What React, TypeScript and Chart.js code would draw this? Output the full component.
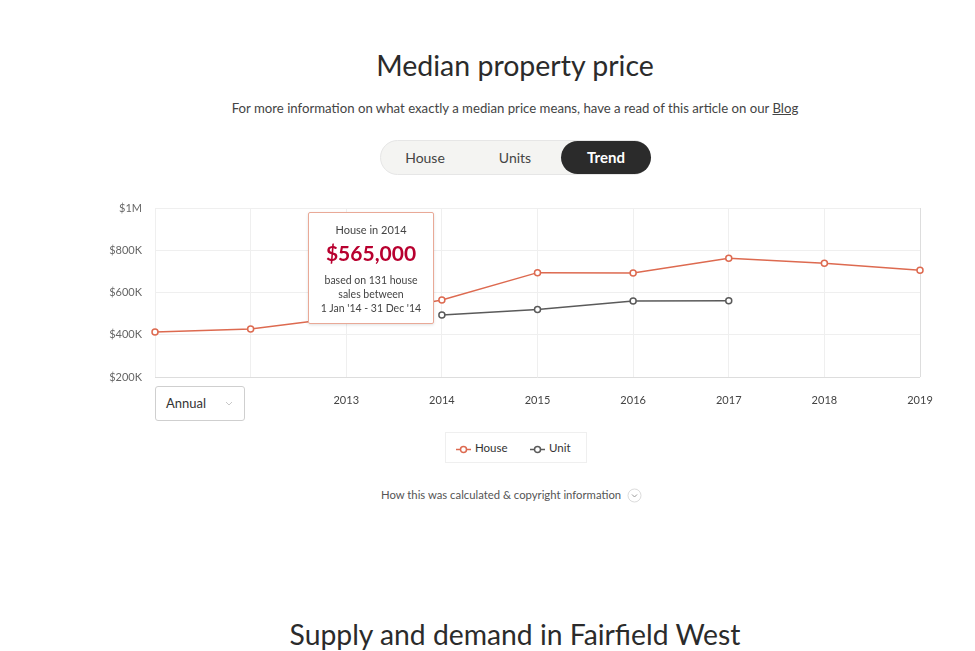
import React, { useEffect, useRef } from 'react';
import { Chart, registerables } from 'chart.js';

Chart.register(...registerables);

const years = ['2011', '2012', '2013', '2014', '2015', '2016', '2017', '2018', '2019'];
const houseValues = [413000, 427000, 484000, 565000, 694000, 692000, 762000, 738000, 705000];
const unitValues = [null, null, null, 493000, 519000, 560000, 561000, null, null];
const yTickValues = [200000, 400000, 600000, 800000, 1000000];
const yTickLabels = ['$200K', '$400K', '$600K', '$800K', '$1M'];
const hiddenYearLabels = ['2011', '2012'];
const seriesNames = ['House', 'Unit'];

const FONT = 'Lato, "Open Sans", sans-serif';
const HOUSE_COLOR = '#dd6a50';
const UNIT_COLOR = '#5a5a5a';

function LegendIcon({ color }: { color: string }) {
  return (
    <svg width="15" height="9" style={{ verticalAlign: 'middle', marginRight: 4 }}>
      <line x1="0" y1="4.5" x2="15" y2="4.5" stroke={color} strokeWidth="1.5" />
      <circle cx="7.5" cy="4.5" r="3" fill="#fff" stroke={color} strokeWidth="1.5" />
    </svg>
  );
}

export default function App() {
  const canvasRef = useRef<HTMLCanvasElement | null>(null);

  useEffect(() => {
    if (!canvasRef.current) return;
    const chart = new Chart(canvasRef.current, {
      type: 'line',
      data: {
        labels: years,
        datasets: [
          {
            label: seriesNames[0],
            data: houseValues,
            borderColor: HOUSE_COLOR,
            backgroundColor: '#ffffff',
            pointBackgroundColor: '#ffffff',
            pointBorderColor: HOUSE_COLOR,
            pointRadius: 3,
            pointBorderWidth: 1.5,
            borderWidth: 1.5,
            tension: 0,
            fill: false,
          },
          {
            label: seriesNames[1],
            data: unitValues,
            borderColor: UNIT_COLOR,
            backgroundColor: '#ffffff',
            pointBackgroundColor: '#ffffff',
            pointBorderColor: UNIT_COLOR,
            pointRadius: 3,
            pointBorderWidth: 1.5,
            borderWidth: 1.5,
            tension: 0,
            fill: false,
            spanGaps: false,
          },
        ],
      },
      options: {
        animation: false,
        responsive: false,
        maintainAspectRatio: false,
        layout: { padding: { top: 13, right: 20, left: 0, bottom: 0 } },
        plugins: {
          legend: { display: false },
          tooltip: { enabled: false },
        },
        scales: {
          x: {
            offset: false,
            grid: {
              drawTicks: false,
              color: (ctx: any) => (ctx.index === years.length - 1 ? '#dddddd' : '#efefef'),
            },
            border: { display: false },
            ticks: {
              padding: 17,
              autoSkip: false,
              maxRotation: 0,
              color: '#444444',
              font: { family: FONT, size: 11 },
              callback: (_v: any, i: number) => (hiddenYearLabels.includes(years[i]) ? '' : years[i]),
            },
            afterFit: (s: any) => {
              s.height = 38;
              s.paddingLeft = 0;
              s.paddingRight = 0;
            },
          },
          y: {
            min: yTickValues[0],
            max: yTickValues[yTickValues.length - 1],
            afterBuildTicks: (s: any) => {
              s.ticks = yTickValues.map((v) => ({ value: v }));
            },
            grid: {
              drawTicks: false,
              color: (ctx: any) => (ctx.index === 0 ? '#dddddd' : '#efefef'),
            },
            border: { display: false },
            ticks: {
              padding: 13,
              color: '#666666',
              font: { family: FONT, size: 11 },
              callback: (v: any) => {
                const idx = yTickValues.indexOf(Number(v));
                return idx >= 0 ? yTickLabels[idx] : '';
              },
            },
            afterFit: (s: any) => {
              s.width = 55;
              s.paddingTop = 0;
              s.paddingBottom = 0;
            },
          },
        },
      },
    } as any);
    return () => chart.destroy();
  }, []);

  const abs = (o: React.CSSProperties): React.CSSProperties => ({ position: 'absolute', ...o });

  return (
    <div
      style={{
        position: 'fixed',
        left: 0,
        top: 0,
        width: 975,
        height: 651,
        background: '#ffffff',
        fontFamily: FONT,
        color: '#333',
        overflow: 'hidden',
      }}
    >
      <div style={abs({ left: 0, width: 1030, top: 47, textAlign: 'center', fontSize: 28.5, color: '#2b2b2b', lineHeight: '36px' })}>
        Median property price
      </div>
      <div style={abs({ left: 0, width: 1030, top: 100, textAlign: 'center', fontSize: 13.2, color: '#444', lineHeight: '16px' })}>
        For more information on what exactly a median price means, have a read of this article on our{' '}
        <span style={{ textDecoration: 'underline' }}>Blog</span>
      </div>

      {/* toggle */}
      <div
        style={abs({
          left: 380,
          top: 140,
          width: 271,
          height: 35,
          borderRadius: 18,
          background: '#f4f4f2',
          border: '1px solid #e6e6e6',
          boxSizing: 'border-box',
        })}
      />
      <div style={abs({ left: 385, top: 149, width: 80, textAlign: 'center', fontSize: 14, color: '#444' })}>House</div>
      <div style={abs({ left: 475, top: 149, width: 80, textAlign: 'center', fontSize: 14, color: '#444' })}>Units</div>
      <div
        style={abs({
          left: 561,
          top: 141,
          width: 90,
          height: 33,
          borderRadius: 17,
          background: '#2b2b2b',
          color: '#fff',
          fontWeight: 700,
          fontSize: 15,
          textAlign: 'center',
          lineHeight: '33px',
        })}
      >
        Trend
      </div>

      <canvas ref={canvasRef} width={840} height={220} style={abs({ left: 100, top: 195, width: 840, height: 220 })} />

      {/* tooltip */}
      <div
        style={abs({
          left: 308,
          top: 212,
          width: 126,
          height: 112,
          boxSizing: 'border-box',
          background: '#ffffff',
          border: '1px solid #e9a997',
          borderRadius: 2,
          boxShadow: '0 1px 3px rgba(0,0,0,0.12)',
          textAlign: 'center',
          color: '#444',
        })}
      >
        <div style={{ fontSize: 11, marginTop: 10, lineHeight: '14px' }}>House in 2014</div>
        <div style={{ fontSize: 21, fontWeight: 700, color: '#b8002f', lineHeight: '28px', marginTop: 2 }}>$565,000</div>
        <div style={{ fontSize: 10.5, lineHeight: '14px', marginTop: 6 }}>
          based on 131 house
          <br />
          sales between
          <br />1 Jan '14 - 31 Dec '14
        </div>
      </div>

      {/* annual dropdown */}
      <div
        style={abs({
          left: 155,
          top: 386,
          width: 90,
          height: 35,
          boxSizing: 'border-box',
          border: '1px solid #cfcfcf',
          borderRadius: 3,
          background: '#fff',
        })}
      >
        <div style={abs({ left: 10, top: 8, fontSize: 13, color: '#333' })}>Annual</div>
        <svg width="8" height="6" style={abs({ left: 69, top: 14 })}>
          <polyline points="1,1 4,4 7,1" fill="none" stroke="#c8c8c8" strokeWidth="1" />
        </svg>
      </div>

      {/* legend */}
      <div
        style={abs({
          left: 445,
          top: 432,
          width: 142,
          height: 31,
          boxSizing: 'border-box',
          border: '1px solid #efefef',
          fontSize: 11.5,
          color: '#333',
        })}
      >
        <div style={abs({ left: 10, top: 8, whiteSpace: 'nowrap' })}>
          <LegendIcon color={HOUSE_COLOR} />
          {seriesNames[0]}
        </div>
        <div style={abs({ left: 84, top: 8, whiteSpace: 'nowrap' })}>
          <LegendIcon color={UNIT_COLOR} />
          {seriesNames[1]}
        </div>
      </div>

      {/* footer link */}
      <div style={abs({ left: 381, top: 488, fontSize: 11.3, color: '#555', whiteSpace: 'nowrap' })}>
        How this was calculated &amp; copyright information
      </div>
      <svg width="15" height="15" style={abs({ left: 627, top: 488 })}>
        <circle cx="7.5" cy="7.5" r="6.5" fill="#fff" stroke="#dcdcdc" strokeWidth="1" />
        <polyline points="5,6.5 7.5,9 10,6.5" fill="none" stroke="#999" strokeWidth="1" />
      </svg>

      <div style={abs({ left: 0, width: 1030, top: 616, textAlign: 'center', fontSize: 28.3, color: '#2b2b2b', lineHeight: '36px' })}>
        Supply and demand in Fairfield West
      </div>
    </div>
  );
}
